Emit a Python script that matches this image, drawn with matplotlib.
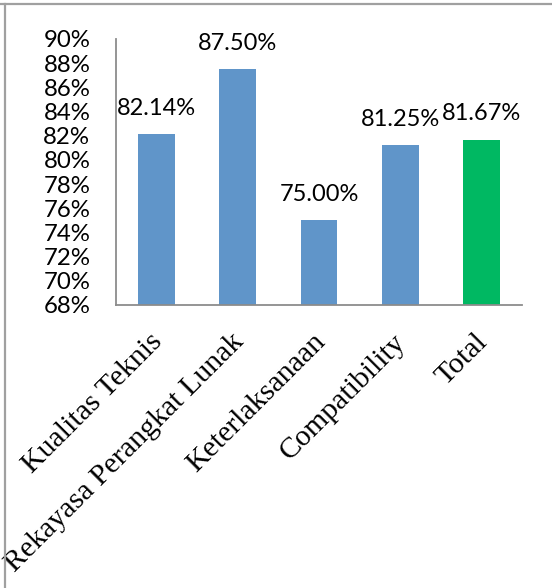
import matplotlib
matplotlib.use("Agg")
import matplotlib.pyplot as plt
from matplotlib.lines import Line2D
from matplotlib.transforms import offset_copy

categories = ["Kualitas Teknis", "Rekayasa Perangkat Lunak", "Keterlaksanaan",
              "Compatibility", "Total"]
values = [82.14, 87.50, 75.00, 81.25, 81.67]
value_labels = ["82.14%", "87.50%", "75.00%", "81.25%", "81.67%"]
bar_colors = ["#6095c9", "#6095c9", "#6095c9", "#6095c9", "#00b862"]
yticks = [68, 70, 72, 74, 76, 78, 80, 82, 84, 86, 88, 90]

W, H = 552, 588
fig = plt.figure(figsize=(W / 100, H / 100), dpi=100)
ax = fig.add_axes([116 / W, 1 - 305 / H, 406 / W, 266 / H])

x = list(range(len(categories)))
ax.bar(x, [v - 68 for v in values], bottom=68, width=0.455, color=bar_colors)

ax.set_xlim(-0.5, 4.5)
ax.set_ylim(68, 90)
ax.set_yticks(yticks)
ax.set_yticklabels([f"{t}%" for t in yticks], fontfamily="Lato", fontsize=17.3)
ax.tick_params(axis="y", length=0, pad=18.5)
ax.set_xticks([])

for s in ["top", "right"]:
    ax.spines[s].set_visible(False)
for s in ["left", "bottom"]:
    ax.spines[s].set_color("#8c8c8c")
    ax.spines[s].set_linewidth(1.3)

# value labels above bars
for xi, v, lab in zip(x, values, value_labels):
    ax.annotate(lab, (xi, v), xytext=(0, 11), textcoords="offset points",
                ha="center", va="bottom", fontfamily="Lato", fontsize=17)

# rotated category labels
tr = offset_copy(ax.get_xaxis_transform(), fig=fig, x=5, y=-27.4, units="points")
for xi, c in zip(x, categories):
    ax.text(xi, 0, c, transform=tr, rotation=45, rotation_mode="anchor",
            ha="right", va="baseline", fontfamily="Liberation Serif", fontsize=21.5)

# frame lines at top and left of the picture
fig.add_artist(Line2D([0, 1], [1 - 3.5 / H, 1 - 3.5 / H], transform=fig.transFigure,
                      color="#a0a0a0", lw=1.6))
fig.add_artist(Line2D([4.5 / W, 4.5 / W], [0, 1 - 3.5 / H], transform=fig.transFigure,
                      color="#a0a0a0", lw=1.6))

fig.savefig("out.png", dpi=100)
